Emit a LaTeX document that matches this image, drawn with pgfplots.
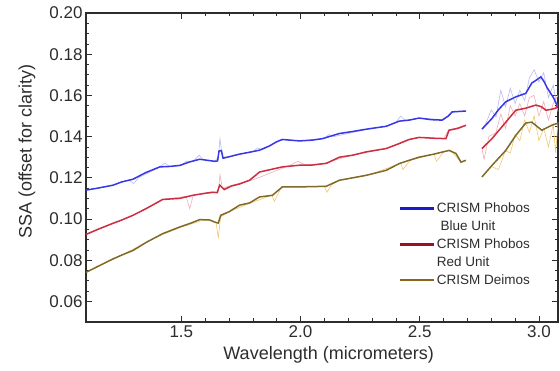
\documentclass[border=0pt]{standalone}
\usepackage{pgfplots}
\pgfplotsset{compat=1.18}
\usepackage{fontspec}
\setmainfont{Liberation Sans}
\definecolor{bline}{RGB}{55,55,232}
\definecolor{blight}{RGB}{185,185,245}
\definecolor{rline}{RGB}{205,45,65}
\definecolor{rlight}{RGB}{240,175,182}
\definecolor{oline}{RGB}{128,106,40}
\definecolor{olight}{RGB}{240,200,110}
\definecolor{legb}{RGB}{25,25,205}
\definecolor{legr}{RGB}{150,20,30}
\definecolor{lego}{RGB}{140,100,30}
\definecolor{txt}{RGB}{45,45,45}
\begin{document}
\begin{tikzpicture}
\useasboundingbox (-86pt,-49pt) rectangle (474pt,322pt);
\begin{axis}[
  at={(0pt,0pt)}, anchor=south west,
  scale only axis, width=472pt, height=309pt,
  xmin=1.1, xmax=3.08, ymin=0.05, ymax=0.20,
  xtick={1.5,2.0,2.5,3.0}, minor x tick num=4,
  ytick={0.06,0.08,0.10,0.12,0.14,0.16,0.18,0.20}, minor y tick num=3,
  tick align=inside,
  major tick length=6pt, minor tick length=3.5pt,
  every tick/.style={txt, line width=0.7pt},
  axis line style={txt, line width=1.2pt},
  xticklabel style={/pgf/number format/.cd, fixed, fixed zerofill, precision=1, assume math mode=true},
  yticklabel style={/pgf/number format/.cd, fixed, fixed zerofill, precision=2, assume math mode=true},
  tick label style={font=\fontsize{17}{20}\selectfont, text=txt},
  xlabel={Wavelength (micrometers)},
  ylabel={SSA (offset for clarity)},
  label style={font=\fontsize{18}{21}\selectfont, text=txt},
  xlabel style={at={(axis description cs:0.514,-0.107)}, anchor=center},
  ylabel style={at={(axis description cs:-0.125,0.552)}, anchor=center},
  unbounded coords=jump,
  legend style={draw=none, fill=none, at={(0.655,0.40)}, anchor=north west,
    font=\fontsize{13.5}{15}\selectfont, text=txt, row sep=2.7pt,
    legend cell align=left},
  legend image code/.code={\draw[#1, line width=2.6pt] (0pt,0pt) -- (34pt,0pt);},
]
% light (unsmoothed) traces
\addplot[blight, line width=0.6pt, forget plot] coordinates {
(1.10,0.1140)(1.20,0.1160)(1.28,0.1190)(1.30,0.1172)(1.32,0.1200)(1.41,0.1253)(1.43,0.1272)(1.45,0.1255)(1.50,0.1260)(1.52,0.1280)(1.55,0.1281)(1.575,0.1310)(1.59,0.1288)(1.64,0.1280)(1.655,0.1300)(1.662,0.1390)(1.672,0.1300)(1.70,0.1302)(1.80,0.1328)(1.82,0.1345)(1.84,0.1336)(1.92,0.1386)(2.00,0.1379)(2.10,0.1392)(2.12,0.1410)(2.14,0.1400)(2.28,0.1436)(2.36,0.1450)(2.40,0.1468)(2.42,0.1500)(2.44,0.1478)(2.50,0.1490)(2.60,0.1482)(2.64,0.1520)(2.694,0.1524)
(2.72,nan)
(2.761,0.1436)(2.78,0.1470)(2.80,0.1530)(2.82,0.1495)(2.84,0.1625)(2.86,0.1545)(2.88,0.1635)(2.90,0.1560)(2.92,0.1625)(2.94,0.1575)(2.96,0.1685)(2.98,0.1725)(3.00,0.1665)(3.02,0.1710)(3.04,0.1590)(3.06,0.1650)(3.08,0.1520)};
\addplot[rlight, line width=0.6pt, forget plot] coordinates {
(1.10,0.0925)(1.30,0.1018)(1.42,0.1095)(1.52,0.1110)(1.535,0.1050)(1.55,0.1115)(1.64,0.1128)(1.655,0.1130)(1.662,0.1215)(1.672,0.1150)(1.70,0.1160)(1.80,0.1190)(1.95,0.1258)(1.99,0.1280)(2.02,0.1262)(2.10,0.1270)(2.20,0.1305)(2.36,0.1342)(2.45,0.1386)(2.50,0.1396)(2.60,0.1390)(2.62,0.1431)(2.694,0.1455)
(2.72,nan)
(2.761,0.1342)(2.77,0.1290)(2.79,0.1400)(2.82,0.1420)(2.84,0.1510)(2.86,0.1440)(2.88,0.1550)(2.90,0.1500)(2.92,0.1560)(2.94,0.1500)(2.96,0.1590)(2.98,0.1600)(3.00,0.1500)(3.02,0.1570)(3.04,0.1480)(3.06,0.1560)(3.08,0.1600)};
\addplot[olight, line width=0.6pt, forget plot] coordinates {
(1.10,0.0741)(1.25,0.0825)(1.40,0.0915)(1.50,0.0961)(1.60,0.0997)(1.645,0.0985)(1.655,0.0910)(1.665,0.1010)(1.70,0.1035)(1.80,0.1082)(1.88,0.1115)(1.89,0.1085)(1.92,0.1156)(2.00,0.1156)(2.10,0.1159)(2.11,0.1130)(2.13,0.1165)(2.16,0.1188)(2.30,0.1220)(2.42,0.1270)(2.43,0.1240)(2.46,0.1285)(2.56,0.1315)(2.57,0.1280)(2.60,0.1325)(2.63,0.1333)(2.673,0.1276)(2.694,0.1285)
(2.72,nan)
(2.761,0.1204)(2.80,0.1255)(2.83,0.1240)(2.86,0.1333)(2.88,0.1320)(2.90,0.1410)(2.92,0.1380)(2.94,0.1480)(2.96,0.1420)(2.98,0.1500)(3.00,0.1380)(3.02,0.1440)(3.04,0.1350)(3.06,0.1460)(3.07,0.1320)(3.08,0.1470)};
% smoothed traces
\addplot[bline, line width=1.5pt, forget plot] coordinates {
(1.10,0.1140)(1.15,0.1150)(1.213,0.1164)(1.25,0.1180)(1.297,0.1193)(1.35,0.1225)(1.41,0.1253)(1.45,0.1255)(1.493,0.1260)(1.535,0.1277)(1.577,0.1290)(1.64,0.1280)(1.652,0.1282)(1.658,0.1330)(1.668,0.1332)(1.675,0.1295)(1.70,0.1302)(1.744,0.1315)(1.786,0.1324)(1.828,0.1334)(1.87,0.1355)(1.90,0.1375)(1.924,0.1386)(1.995,0.1379)(2.05,0.1383)(2.092,0.1390)(2.163,0.1415)(2.22,0.1425)(2.276,0.1436)(2.359,0.1450)(2.414,0.1475)(2.456,0.1480)(2.497,0.1490)(2.55,0.1482)(2.594,0.1480)(2.62,0.1500)(2.636,0.1520)(2.694,0.1524)
(2.72,nan)
(2.761,0.1436)(2.803,0.1488)(2.83,0.1530)(2.861,0.1569)(2.903,0.1593)(2.945,0.1610)(2.97,0.1660)(2.99,0.1675)(3.008,0.1690)(3.02,0.1670)(3.033,0.1640)(3.062,0.1587)(3.08,0.1540)};
\addplot[rline, line width=1.5pt, forget plot] coordinates {
(1.10,0.0925)(1.15,0.0950)(1.213,0.0979)(1.25,0.0995)(1.297,0.1018)(1.355,0.1052)(1.422,0.1095)(1.493,0.1100)(1.548,0.1115)(1.60,0.1125)(1.631,0.1130)(1.65,0.1128)(1.661,0.1164)(1.68,0.1143)(1.71,0.1160)(1.744,0.1170)(1.786,0.1188)(1.828,0.1228)(1.924,0.1253)(1.995,0.1261)(2.05,0.1262)(2.108,0.1270)(2.163,0.1300)(2.22,0.1310)(2.276,0.1326)(2.359,0.1342)(2.414,0.1366)(2.456,0.1386)(2.497,0.1396)(2.56,0.1392)(2.61,0.1390)(2.623,0.1431)(2.66,0.1440)(2.694,0.1455)
(2.72,nan)
(2.761,0.1342)(2.803,0.1390)(2.861,0.1470)(2.903,0.1528)(2.945,0.1538)(2.987,0.1553)(3.01,0.1545)(3.029,0.1528)(3.05,0.1532)(3.071,0.1538)(3.08,0.1560)};
\addplot[oline, line width=1.5pt, forget plot] coordinates {
(1.10,0.0741)(1.15,0.0770)(1.213,0.0806)(1.25,0.0825)(1.297,0.0847)(1.355,0.0888)(1.422,0.0929)(1.493,0.0961)(1.54,0.0980)(1.577,0.0997)(1.62,0.0995)(1.64,0.0985)(1.655,0.0980)(1.665,0.1018)(1.70,0.1035)(1.744,0.1067)(1.786,0.1078)(1.828,0.1107)(1.882,0.1115)(1.924,0.1156)(1.995,0.1156)(2.05,0.1157)(2.108,0.1159)(2.163,0.1188)(2.22,0.1200)(2.276,0.1212)(2.359,0.1236)(2.414,0.1269)(2.456,0.1285)(2.497,0.1300)(2.56,0.1315)(2.623,0.1333)(2.652,0.1318)(2.673,0.1276)(2.694,0.1285)
(2.72,nan)
(2.761,0.1204)(2.803,0.1260)(2.861,0.1333)(2.903,0.1406)(2.945,0.1466)(2.97,0.1470)(3.012,0.1431)(3.054,0.1455)(3.08,0.1465)};
% legend
\addlegendimage{legb}
\addlegendentry{CRISM Phobos}
\addlegendimage{legend image code/.code={}}
\addlegendentry{\ Blue Unit}
\addlegendimage{legr}
\addlegendentry{CRISM Phobos}
\addlegendimage{legend image code/.code={}}
\addlegendentry{Red Unit}
\addlegendimage{lego}
\addlegendentry{CRISM Deimos}
\end{axis}
\end{tikzpicture}
\end{document}
